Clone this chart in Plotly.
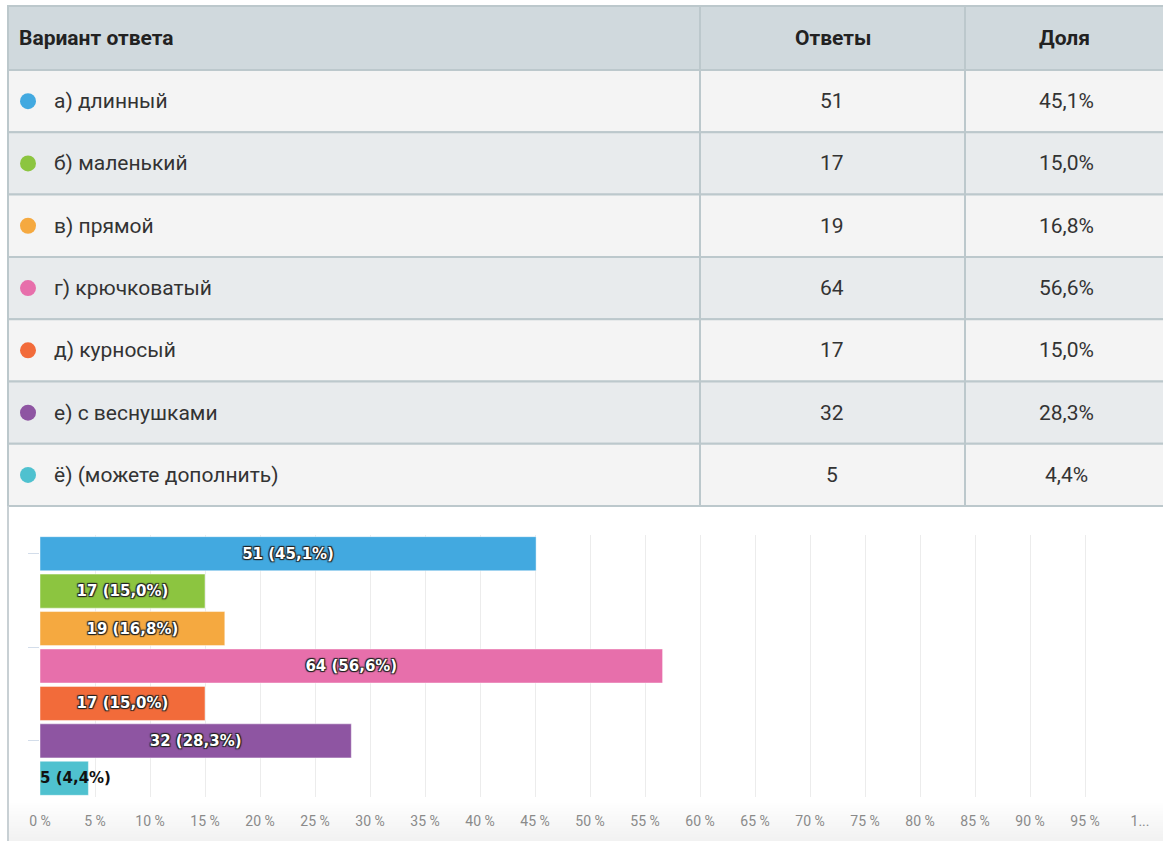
import plotly.graph_objects as go

# Survey answers
options = ["а) длинный", "б) маленький", "в) прямой", "г) крючковатый",
           "д) курносый", "е) с веснушками", "ё) (можете дополнить)"]
counts = [51, 17, 19, 64, 17, 32, 5]
shares = [45.1, 15.0, 16.8, 56.6, 15.0, 28.3, 4.4]
colors = ["#42a9e0", "#8cc540", "#f5a940", "#e76fab", "#f26b3a", "#8e55a2", "#4fc1cf"]

header = ["Вариант ответа", "Ответы", "Доля"]
x_tick_vals = list(range(0, 101, 5))
x_tick_text = [f"{v} %" for v in range(0, 100, 5)] + ["1..."]

W, H = 1163, 841
FONT = "Roboto, Liberation Sans, sans-serif"


def fx(p):
    return p / W


def fy(p):
    return 1 - p / H


def fmt(v):
    return f"{v:.1f}".replace(".", ",")


shapes = []
annotations = []

# ---- table ----
col_edges = [8, 700, 965, W + 2]
head_top, head_bot = 6, 70
row_h = 62.3
border = "#bcc8cc"


def cell_rect(x0, y0, x1, y1, fill):
    shapes.append(dict(type="rect", xref="paper", yref="paper",
                       x0=fx(x0), x1=fx(x1), y0=fy(y1), y1=fy(y0),
                       fillcolor=fill, line=dict(color=border, width=2),
                       layer="below"))


for c in range(3):
    cell_rect(col_edges[c], head_top, col_edges[c + 1], head_bot, "#d0d9dd")
for r in range(len(options)):
    y0 = head_bot + r * row_h
    fill = "#f4f4f4" if r % 2 == 0 else "#e8ebed"
    for c in range(3):
        cell_rect(col_edges[c], y0, col_edges[c + 1], y0 + row_h, fill)

head_font = dict(family=FONT, size=21, color="#222", weight="bold")
annotations.append(dict(xref="paper", yref="paper", x=fx(17), y=fy((head_top + head_bot) / 2),
                        xanchor="left", yanchor="middle", showarrow=False,
                        text=header[0], font=head_font))
for c in (1, 2):
    annotations.append(dict(xref="paper", yref="paper",
                            x=fx((col_edges[c] + min(col_edges[c + 1], W)) / 2),
                            y=fy((head_top + head_bot) / 2),
                            xanchor="center", yanchor="middle", showarrow=False,
                            text=header[c], font=head_font))

row_font = dict(family=FONT, size=21, color="#333")
for r, (opt, cnt, sh, col) in enumerate(zip(options, counts, shares, colors)):
    yc = head_bot + (r + 0.5) * row_h
    shapes.append(dict(type="circle", xref="paper", yref="paper",
                       xsizemode="pixel", ysizemode="pixel",
                       xanchor=fx(28), yanchor=fy(yc),
                       x0=-8, x1=8, y0=-8, y1=8,
                       fillcolor=col, line=dict(width=0), layer="above"))
    annotations.append(dict(xref="paper", yref="paper", x=fx(52), y=fy(yc),
                            xanchor="left", yanchor="middle", showarrow=False,
                            text=opt, font=row_font))
    annotations.append(dict(xref="paper", yref="paper", x=fx(832), y=fy(yc),
                            xanchor="center", yanchor="middle", showarrow=False,
                            text=str(cnt), font=row_font))
    annotations.append(dict(xref="paper", yref="paper", x=fx(1066), y=fy(yc),
                            xanchor="center", yanchor="middle", showarrow=False,
                            text=fmt(sh) + "%", font=row_font))

# ---- chart frame: left border and soft bottom shade ----
table_bottom = head_bot + len(options) * row_h
shapes.append(dict(type="line", xref="paper", yref="paper",
                   x0=fx(8), x1=fx(8), y0=0, y1=fy(table_bottom),
                   line=dict(color="#c8d0d4", width=2), layer="below"))
n_bands = 20
for i in range(n_bands):
    g = int(255 - (i + 1) * 13 / n_bands)
    y_top = 803 + i * (H - 803) / n_bands
    shapes.append(dict(type="rect", xref="paper", yref="paper",
                       x0=fx(9), x1=1, y0=fy(y_top + (H - 803) / n_bands + 1), y1=fy(y_top),
                       fillcolor=f"rgb({g},{g},{g})", line=dict(width=0), layer="below"))

# ---- bar chart ----
ypos = list(range(len(options)))
bar_text = [f"{c} ({fmt(s)}%)" if s >= 10 else "" for c, s in zip(counts, shares)]
label_font = "DejaVu Sans, sans-serif"
for c, s, y in zip(counts, shares, ypos):
    if s < 10:
        annotations.append(dict(xref="x", yref="y", x=0, y=y, xanchor="left",
                                yanchor="middle", showarrow=False, xshift=-2,
                                text=f"<b>{c} ({fmt(s)}%)</b>",
                                font=dict(family=label_font, size=15, color="#111")))

fig = go.Figure(go.Bar(
    x=shares, y=ypos, orientation="h", width=0.91,
    marker=dict(color=colors, line=dict(color="rgba(255,255,255,0.45)", width=1)),
    text=bar_text, textposition="inside", insidetextanchor="middle",
    textangle=0, constraintext="none",
    textfont=dict(family=label_font, size=15, color="white", weight="bold",
                  shadow="1px 1px 1px #222, -1px -1px 1px #222, 1px -1px 1px #222, -1px 1px 1px #222"),
    hoverinfo="skip",
))

fig.update_layout(
    width=W, height=H,
    margin=dict(l=0, r=0, t=0, b=0, autoexpand=False),
    paper_bgcolor="white", plot_bgcolor="rgba(0,0,0,0)",
    showlegend=False,
    shapes=shapes, annotations=annotations,
    xaxis=dict(domain=[fx(40), fx(1140)], range=[0, 100], tickvals=x_tick_vals,
               ticktext=x_tick_text, showgrid=True, gridcolor="#ececec", gridwidth=1,
               zeroline=False, showline=False, ticks="", ticklabelstandoff=14,
               automargin=False,
               tickfont=dict(family=FONT, size=14, color="#8a8a8a"),
               fixedrange=True),
    yaxis=dict(domain=[fy(797), fy(535)], range=[6.5, -0.5], tickvals=[0, 2.5, 5],
               showticklabels=False, ticks="outside", ticklen=11, tickcolor="#d3ddea",
               automargin=False,
               showgrid=False, zeroline=False, showline=False, fixedrange=True),
)

fig.write_html("out.html")
